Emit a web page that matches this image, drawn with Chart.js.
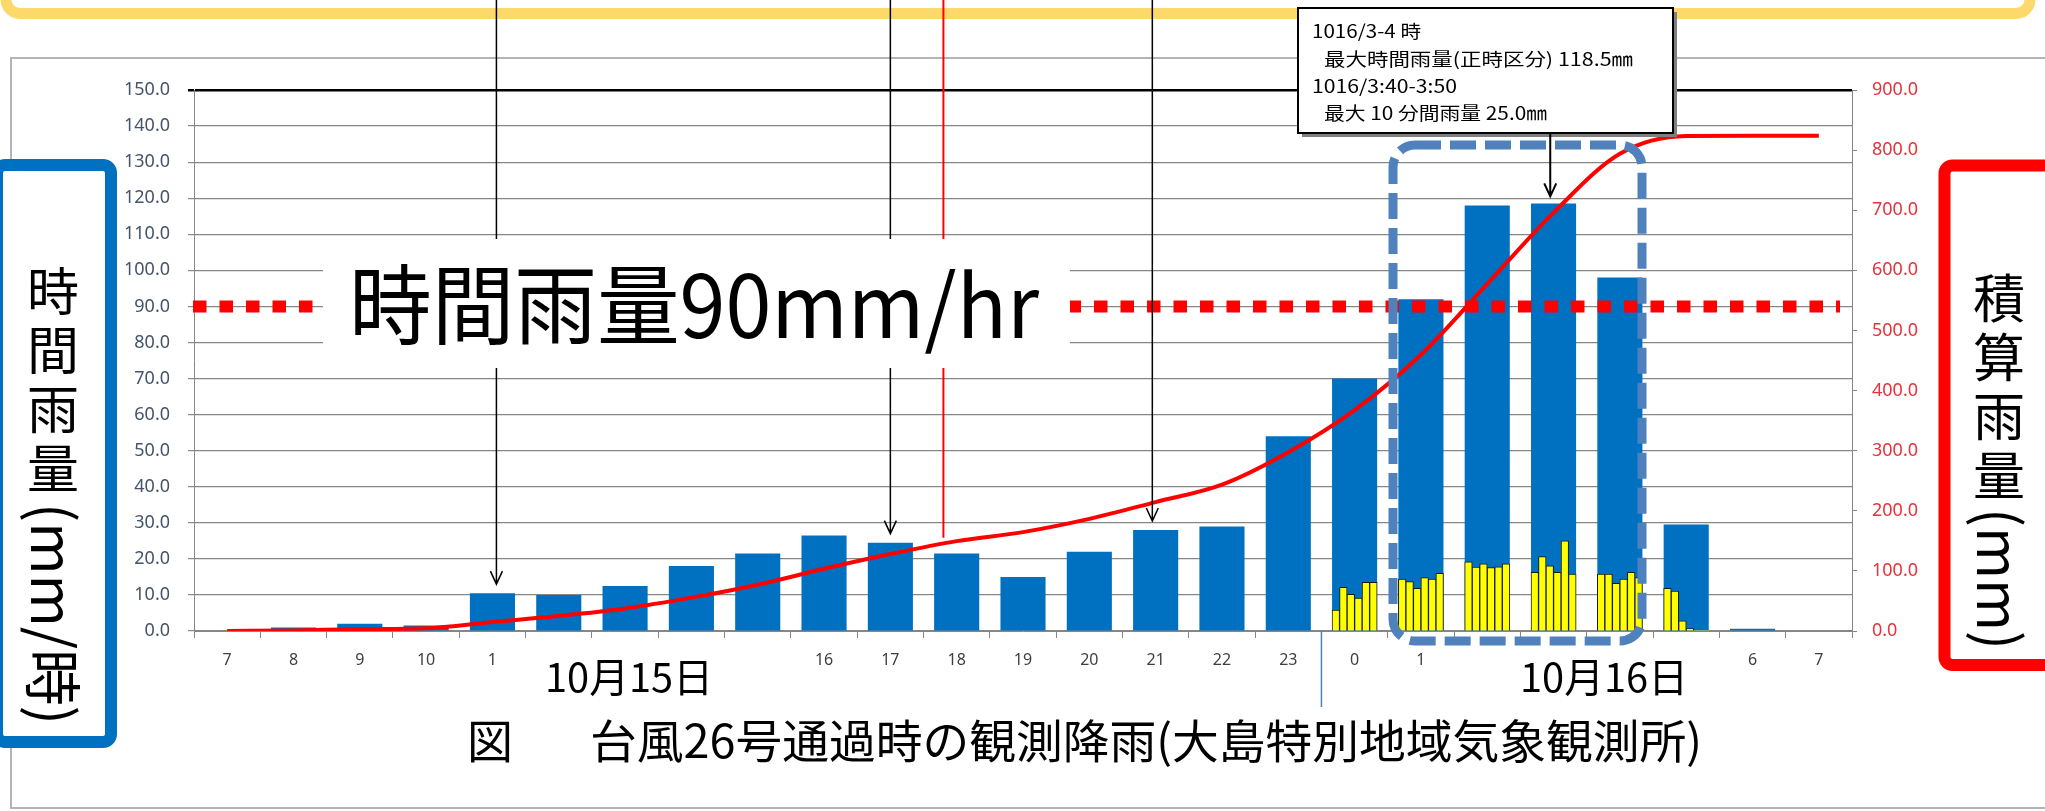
<!DOCTYPE html>
<html lang="ja">
<head>
<meta charset="utf-8">
<title>台風26号通過時の観測降雨</title>
<script src="https://cdn.jsdelivr.net/npm/chart.js@4.4.1/dist/chart.umd.min.js"></script>
<style>
  html, body { margin: 0; padding: 0; background: #fff; }
</style>
</head>
<body>
<canvas id="rainChart" width="2045" height="811"></canvas>
<script>
// --- data ---

// hour of day, 10/15 7時 -> 10/16 7時 (blank = hidden under the date labels)
const hourLabels = ['7', '8', '9', '10', '1', '', '', '', '', '16', '17', '18', '19', '20', '21', '22', '23', '0', '1', '', '', '', '', '6', '7'];

// hourly rainfall, mm/h (left axis)
const hourlyRain = [0, 1.0, 2.0, 1.5, 10.5, 10.0, 12.5, 18.0, 21.5, 26.5, 24.5, 21.5, 15.0, 22.0, 28.0, 29.0, 54.0, 70.0, 92.0, 118.0, 118.5, 98.0, 29.5, 0.6, 0];

// cumulative rainfall, mm (right axis)
const cumulativeRain = [0, 1, 3, 4.5, 15, 25, 37.5, 55.5, 77, 103.5, 128, 149.5, 164.5, 186.5, 214.5, 243.5, 297.5, 367.5, 459.5, 577.5, 696, 794, 823.5, 824, 824];

// 10-minute rainfall, mm (left axis), six per hour for 10/16 0時-5時
const tenMinHourIndex = [17, 18, 19, 20, 21, 22];
const tenMin0h = [5.8, 12.1, 10.2, 9.1, 13.5, 13.5];
const tenMin1h = [14.4, 13.7, 11.8, 14.8, 14.4, 16.0];
const tenMin2h = [19.2, 17.7, 18.6, 17.6, 17.8, 18.6];
const tenMin3h = [16.3, 20.6, 18.1, 16.3, 25.0, 15.8];
const tenMin4h = [15.8, 15.8, 13.2, 14.4, 16.3, 14.8];
const tenMin5h = [11.8, 11.1, 2.8, 0.7, 0, 0];

const JP_FONT = '"Noto Sans CJK JP", "Noto Sans CJK SC", sans-serif';
const BAR_FRACTION = 0.68;

// yellow 10-minute bars sit side by side inside each hourly bar
const tenMinSets = [tenMin0h, tenMin1h, tenMin2h, tenMin3h, tenMin4h, tenMin5h];
const tenMinPoints = [];
tenMinHourIndex.forEach((h, i) => {
  tenMinSets[i].forEach((v, k) => {
    tenMinPoints.push({ x: h - BAR_FRACTION / 2 + (k + 0.5) * BAR_FRACTION / 6, y: v });
  });
});

// --- drawing helpers ---
function roundRectPath(ctx, x0, y0, x1, y1, r) {
  ctx.beginPath();
  ctx.moveTo(x0 + r, y0);
  ctx.lineTo(x1 - r, y0);
  ctx.arcTo(x1, y0, x1, y0 + r, r);
  ctx.lineTo(x1, y1 - r);
  ctx.arcTo(x1, y1, x1 - r, y1, r);
  ctx.lineTo(x0 + r, y1);
  ctx.arcTo(x0, y1, x0, y1 - r, r);
  ctx.lineTo(x0, y0 + r);
  ctx.arcTo(x0, y0, x0 + r, y0, r);
  ctx.closePath();
}

// draw text stretched/squeezed to a given width
function fitText(ctx, text, x, y, width) {
  const w = ctx.measureText(text).width;
  ctx.save();
  ctx.translate(x, y);
  ctx.scale(width / w, 1);
  ctx.fillText(text, 0, 0);
  ctx.restore();
}

function arrowDown(ctx, x, yFrom, yTo, head) {
  ctx.beginPath();
  ctx.moveTo(x, yFrom);
  ctx.lineTo(x, yTo);
  if (head) {
    ctx.moveTo(x - 6, yTo - 13);
    ctx.lineTo(x, yTo);
    ctx.lineTo(x + 6, yTo - 13);
  }
  ctx.stroke();
}

// upright kanji stacked, then the bracket part turned 90 degrees
function verticalLabel(ctx, upright, rotated, cx, yStart, pitch, runStart, runLength) {
  ctx.font = '52px ' + JP_FONT;
  ctx.fillStyle = '#000';
  ctx.textAlign = 'center';
  ctx.textBaseline = 'middle';
  [...upright].forEach((ch, i) => ctx.fillText(ch, cx, yStart + i * pitch));
  ctx.save();
  ctx.translate(cx, runStart);
  ctx.rotate(Math.PI / 2);
  ctx.textAlign = 'left';
  ctx.font = '58px ' + JP_FONT;
  fitText(ctx, rotated, 0, 0, runLength);
  ctx.restore();
}

// everything drawn around the plot: boxes, notes, arrows, titles
const overlay = {
  id: 'overlay',
  afterDraw(chart) {
    const ctx = chart.ctx;
    const xs = chart.scales.x2;
    const ys = chart.scales.y;
    const ys2 = chart.scales.y2;
    ctx.save();

    // yellow frame edge at the very top
    roundRectPath(ctx, 6, -60, 2030, 13.5, 14);
    ctx.strokeStyle = '#fcd96a';
    ctx.lineWidth = 11;
    ctx.stroke();

    // grey frame of the chart object
    ctx.strokeStyle = '#b4b4b4';
    ctx.lineWidth = 2;
    ctx.strokeRect(11, 58, 2100, 750);

    // 90 mm/hr red dotted line
    const y90 = ys.getPixelForValue(90);
    ctx.setLineDash([13.5, 13]);
    ctx.strokeStyle = '#ff0000';
    ctx.lineWidth = 12;
    ctx.beginPath();
    ctx.moveTo(193, y90);
    ctx.lineTo(1840, y90);
    ctx.stroke();
    ctx.setLineDash([]);

    // pointer lines from the slide above
    ctx.strokeStyle = '#000';
    ctx.lineWidth = 1.5;
    arrowDown(ctx, xs.getPixelForValue(4.06), 0, ys.getPixelForValue(13), true);
    arrowDown(ctx, xs.getPixelForValue(10), 0, ys.getPixelForValue(27), true);
    arrowDown(ctx, xs.getPixelForValue(13.95), 0, ys.getPixelForValue(30.5), true);
    ctx.strokeStyle = '#ff0000';
    ctx.lineWidth = 2;
    arrowDown(ctx, xs.getPixelForValue(10.8), 0, ys2.getPixelForValue(155), false);

    // big label over the plot
    ctx.fillStyle = '#fff';
    ctx.fillRect(323, 239, 747, 129);
    ctx.fillStyle = '#000';
    ctx.font = '87px ' + JP_FONT;
    ctx.textAlign = 'left';
    ctx.textBaseline = 'middle';
    fitText(ctx, '時間雨量90mm/hr', 349, 305, 690);

    // dashed frame around the peak hours
    roundRectPath(ctx, 1393, 145, 1642, 641, 22);
    ctx.setLineDash([26, 9]);
    ctx.strokeStyle = '#4f81bd';
    ctx.lineWidth = 9;
    ctx.stroke();
    ctx.setLineDash([]);

    // note box with shadow
    ctx.fillStyle = '#7f7f7f';
    ctx.fillRect(1302, 12, 375, 125);
    ctx.fillStyle = '#fff';
    ctx.fillRect(1298, 8, 375, 125);
    ctx.strokeStyle = '#000';
    ctx.lineWidth = 2;
    ctx.strokeRect(1298, 8, 375, 125);
    ctx.fillStyle = '#000';
    ctx.font = '18px ' + JP_FONT;
    fitText(ctx, '1016/3-4 時', 1312, 31, 109);
    fitText(ctx, '最大時間雨量(正時区分) 118.5㎜', 1324, 59.5, 309);
    fitText(ctx, '1016/3:40-3:50', 1312, 86, 145);
    fitText(ctx, '最大 10 分間雨量 25.0㎜', 1324, 113, 223);
    ctx.lineWidth = 2;
    arrowDown(ctx, xs.getPixelForValue(19.95), 133, ys.getPixelForValue(120.5), true);

    // left axis title box
    roundRectPath(ctx, -3, 165, 111, 742, 8);
    ctx.fillStyle = '#fff';
    ctx.fill();
    ctx.strokeStyle = '#0070c0';
    ctx.lineWidth = 12;
    ctx.stroke();
    verticalLabel(ctx, '時間雨量', '(mm/時)', 53, 291, 59, 503, 222);

    // right axis title box
    roundRectPath(ctx, 1944.5, 165.5, 2090, 665, 8);
    ctx.fillStyle = '#fff';
    ctx.fill();
    ctx.strokeStyle = '#ff0000';
    ctx.lineWidth = 12;
    ctx.stroke();
    verticalLabel(ctx, '積算雨量', '(mm)', 1999, 298, 59, 508, 142);

    // day separator below the axis
    const xSep = (chart.scales.x.getPixelForValue(16) + chart.scales.x.getPixelForValue(17)) / 2;
    ctx.strokeStyle = '#4f81bd';
    ctx.lineWidth = 1.5;
    ctx.beginPath();
    ctx.moveTo(xSep, ys.getPixelForValue(0));
    ctx.lineTo(xSep, 707);
    ctx.stroke();

    // dates and caption
    ctx.fillStyle = '#000';
    ctx.textAlign = 'left';
    ctx.textBaseline = 'middle';
    ctx.font = '40px ' + JP_FONT;
    fitText(ctx, '10月15日', 545, 677, 168);
    fitText(ctx, '10月16日', 1520, 677, 168);
    ctx.font = '46px ' + JP_FONT;
    ctx.fillText('図', 467, 741);
    fitText(ctx, '台風26号通過時の観測降雨(大島特別地域気象観測所)', 590, 741, 1112);

    ctx.restore();
  }
};

Chart.defaults.font.family = '"Noto Sans", "DejaVu Sans", sans-serif';

new Chart(document.getElementById('rainChart'), {
  type: 'bar',
  data: {
    labels: hourLabels,
    datasets: [
      {
        type: 'line',
        label: '積算雨量',
        data: cumulativeRain,
        xAxisID: 'x',
        yAxisID: 'y2',
        borderColor: '#ff0000',
        borderWidth: 4,
        pointRadius: 0,
        cubicInterpolationMode: 'monotone',
        order: 0
      },
      {
        label: '10分間雨量',
        data: tenMinPoints,
        xAxisID: 'x2',
        yAxisID: 'y',
        backgroundColor: '#ffff00',
        borderColor: '#1a1a1a',
        borderWidth: c => (c.raw && c.raw.y > 0 ? 1 : 0),
        barPercentage: 1,
        categoryPercentage: 1,
        grouped: false,
        order: 1
      },
      {
        label: '時間雨量',
        data: hourlyRain,
        xAxisID: 'x',
        yAxisID: 'y',
        backgroundColor: '#0070c0',
        barPercentage: BAR_FRACTION,
        categoryPercentage: 1,
        grouped: false,
        order: 2
      }
    ]
  },
  options: {
    responsive: false,
    animation: false,
    layout: { padding: { top: 90, left: 0, right: 0, bottom: 0 } },
    plugins: {
      legend: { display: false },
      tooltip: { enabled: false }
    },
    scales: {
      x: {
        type: 'category',
        offset: true,
        grid: { drawOnChartArea: false, tickLength: 7, color: '#868686', offset: true },
        border: { color: '#868686' },
        ticks: { color: '#404040', font: { size: 16 }, padding: 13, autoSkip: false, maxRotation: 0 },
        afterFit: s => { s.height = 180; }
      },
      x2: {
        type: 'linear',
        display: false,
        offset: false,
        grid: { offset: false },
        min: -0.5,
        max: 24.5
      },
      y: {
        position: 'left',
        min: 0,
        max: 150,
        ticks: {
          stepSize: 10,
          callback: v => v.toFixed(1),
          color: '#44546a',
          font: { size: 18 },
          padding: 18
        },
        grid: {
          color: c => (c.tick && c.tick.value === 150 ? '#000' : '#868686'),
          lineWidth: c => (c.tick && c.tick.value === 150 ? 2.5 : 1.2),
          tickLength: 6
        },
        border: { color: '#868686' },
        afterFit: s => { s.width = 194; }
      },
      y2: {
        position: 'right',
        min: 0,
        max: 900,
        ticks: {
          stepSize: 100,
          callback: v => v.toFixed(1),
          color: '#e8323c',
          font: { size: 18 },
          padding: 15
        },
        grid: { drawOnChartArea: false, tickLength: 5, color: '#868686' },
        border: { color: '#868686' },
        afterFit: s => { s.width = 193; }
      }
    }
  },
  plugins: [overlay]
});
</script>
</body>
</html>
